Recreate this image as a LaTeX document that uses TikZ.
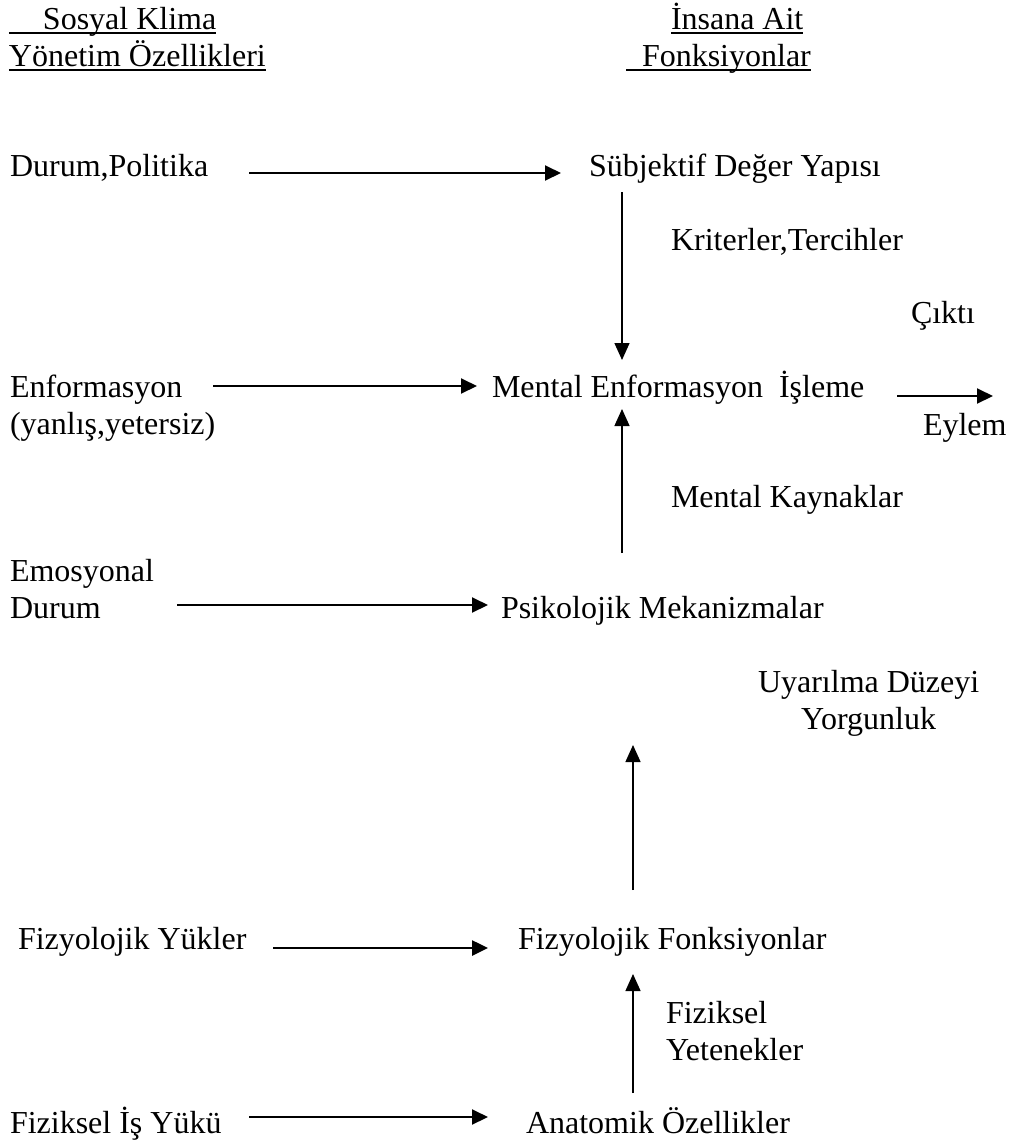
\documentclass[tikz,border=0pt]{standalone}
\usepackage{fontspec}
\setmainfont{Liberation Serif}
\usetikzlibrary{arrows.meta}
\newcommand\myul[1]{\setbox0\hbox{#1}\rlap{\rule[-5pt]{\wd0}{1.8pt}}\box0}
\begin{document}
\begin{tikzpicture}[x=1pt,y=-1pt,
  lbl/.style={inner sep=0pt, outer sep=0pt, anchor=base west, font=\fontsize{32}{37}\selectfont},
  harr/.style={line width=2pt, -{Triangle[length=16pt,width=15pt]}},
  varr/.style={line width=1.4pt, -{Triangle[length=17pt,width=15pt]}}]
\useasboundingbox (0,0) rectangle (1013,1144);
\fill[white] (0,0) rectangle (1013,1144);
% headers
\node[lbl] (hl) at (9,29) {\begin{tabular}[t]{@{}l@{}}\myul{\hspace*{34pt}Sosyal Klima}\\ \myul{Yönetim Özellikleri}\end{tabular}};
\node[lbl] (hr) at (626,29) {\begin{tabular}[t]{@{}l@{}}\hspace*{45pt}\myul{İnsana Ait}\\ \myul{\hspace*{16pt}Fonksiyonlar}\end{tabular}};
% nodes
\node[lbl] (dp) at (10,176) {Durum,Politika};
\node[lbl] (sd) at (589,176) {Sübjektif Değer Yapısı};
\node[lbl] (kt) at (671,250) {Kriterler,Tercihler};
\node[lbl] (ck) at (911,323) {Çıktı};
\node[lbl] (enf) at (10,397) {\begin{tabular}[t]{@{}l@{}}Enformasyon\\(yanlış,yetersiz)\end{tabular}};
\node[lbl] (me) at (492,397) {Mental Enformasyon\ \ İşleme};
\node[lbl] (ey) at (923,435) {Eylem};
\node[lbl] (mk) at (671,507) {Mental Kaynaklar};
\node[lbl] (emo) at (10,618) {\begin{tabular}[b]{@{}l@{}}Emosyonal\\Durum\end{tabular}};
\node[lbl] (pm) at (501,618) {Psikolojik Mekanizmalar};
\node[lbl] (uy) at (758,692) {\begin{tabular}[t]{@{}c@{}}Uyarılma Düzeyi\\Yorgunluk\end{tabular}};
\node[lbl] (fy) at (18,949) {Fizyolojik Yükler};
\node[lbl] (ff) at (518,949) {Fizyolojik Fonksiyonlar};
\node[lbl] (fz) at (666,1023) {\begin{tabular}[t]{@{}l@{}}Fiziksel\\Yetenekler\end{tabular}};
\node[lbl] (fiy) at (10,1133) {Fiziksel İş Yükü};
\node[lbl] (an) at (526,1133) {Anatomik Özellikler};
% horizontal arrows
\draw[harr] ([xshift=239pt,yshift=3pt]dp.base west) -- ([xshift=-28pt,yshift=3pt]sd.base west);
\draw[harr] ([xshift=203pt,yshift=11pt]enf.base west) -- ([xshift=-15pt,yshift=11pt]me.base west);
\draw[harr] ([xshift=167pt,yshift=13pt]emo.base west) -- ([xshift=-13pt,yshift=13pt]pm.base west);
\draw[harr, line width=2.6pt] ([xshift=255pt,yshift=1pt]fy.base west) -- ([xshift=-30pt,yshift=1pt]ff.base west);
\draw[harr] ([xshift=239pt,yshift=16pt]fiy.base west) -- ([xshift=-38pt,yshift=16pt]an.base west);
\draw[harr] ([xshift=405pt,yshift=1pt]me.base west) -- ([xshift=70pt,yshift=39pt]ey.base west);
% vertical arrows
\draw[varr] ([xshift=33pt,yshift=-16pt]sd.base west) -- ([xshift=130pt,yshift=37pt]me.base west);
\draw[varr] ([xshift=121pt,yshift=65pt]pm.base west) -- ([xshift=130pt,yshift=-12pt]me.base west);
\draw[varr] ([xshift=115pt,yshift=59pt]ff.base west) -- ([xshift=132pt,yshift=-127pt]pm.base west);
\draw[varr] ([xshift=107pt,yshift=40pt]an.base west) -- ([xshift=115pt,yshift=-25pt]ff.base west);
\end{tikzpicture}
\end{document}
